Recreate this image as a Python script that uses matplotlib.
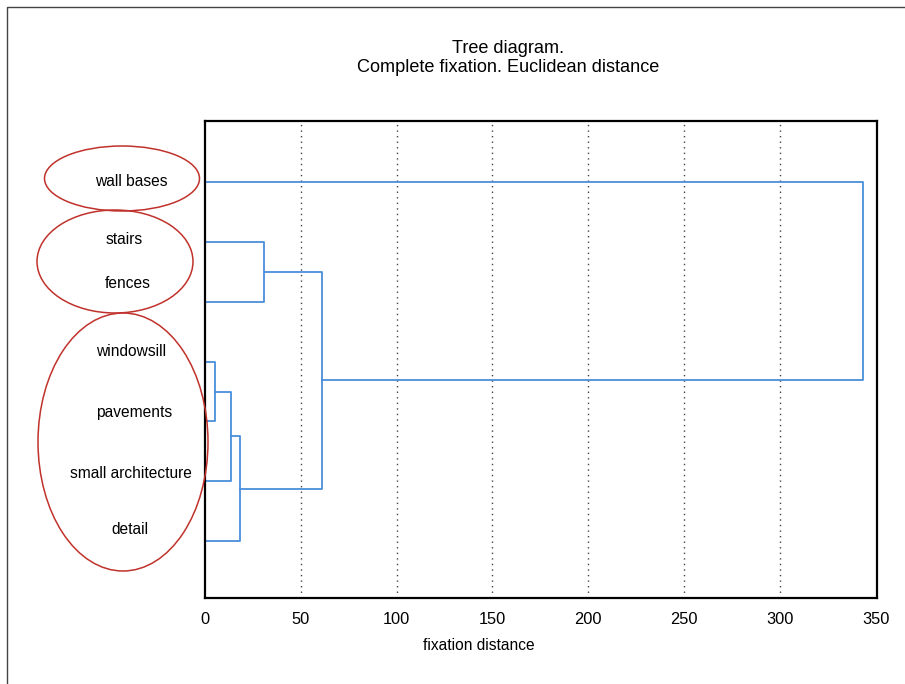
import matplotlib.pyplot as plt
from matplotlib.patches import Ellipse
from matplotlib.lines import Line2D

plt.rcParams['font.family'] = ['Liberation Sans', 'DejaVu Sans']

# leaves from top to bottom
leaves = ["wall bases", "stairs", "fences", "windowsill", "pavements",
          "small architecture", "detail"]
# merges: (child a, child b, distance); new cluster ids start at len(leaves)
merge_a = [3, 7, 8, 1, 10, 0]
merge_b = [4, 5, 6, 2, 9, 11]
merge_dist = [5.2, 13.6, 18.1, 30.7, 61.3, 343.3]

xticks = [0, 50, 100, 150, 200, 250, 300, 350]

# hand placed labels and circles (figure pixels, like in the original picture)
label_x = [131, 124, 128, 131, 134, 131, 130]
label_y = [181, 239, 283, 351, 412, 473, 528]
ell_cx = [122, 115, 123]
ell_cy = [178.5, 261.5, 442]
ell_w = [155, 156, 170]
ell_h = [65, 103, 258]

W, H = 905, 684
fig = plt.figure(figsize=(W / 100, H / 100), dpi=100)
ax = fig.add_axes([205 / W, 1 - 598 / H, 672 / W, 477 / H])

line_color = '#4a8fdb'
pos = {i: (0.0, i + 1.0) for i in range(len(leaves))}
for k, (a, b, d) in enumerate(zip(merge_a, merge_b, merge_dist)):
    ha, ya = pos[a]
    hb, yb = pos[b]
    ax.plot([ha, d, d, hb], [ya, ya, yb, yb], color=line_color, lw=1.3)
    pos[len(leaves) + k] = (d, (ya + yb) / 2)

ax.set_xlim(0, 350.7)
ax.set_ylim(7.95, -0.02)
ax.set_xticks(xticks)
ax.set_yticks([])
ax.tick_params(axis='x', length=0, pad=10, labelsize=11.8)
for x in xticks[1:-1]:
    ax.axvline(x, color='#444444', lw=1, ls=(0, (1, 3)), zorder=0)
for s in ax.spines.values():
    s.set_linewidth(1.6)
    s.set_color('black')

fig.text(508 / W, 1 - 58 / H, "Tree diagram.\nComplete fixation. Euclidean distance",
         ha='center', va='center', fontsize=13.1, linespacing=1.2)
fig.text(479 / W, 1 - 646 / H, "fixation distance", ha='center', va='center', fontsize=11.2)

# overlay in pixel coordinates for the labels and red circles
over = fig.add_axes([0, 0, 1, 1], facecolor='none')
over.set_xlim(0, W)
over.set_ylim(H, 0)
over.axis('off')
for name, x, y in zip(leaves, label_x, label_y):
    over.text(x, y + 1, name, ha='center', va='center', fontsize=11.2)
for cx, cy, w, h in zip(ell_cx, ell_cy, ell_w, ell_h):
    over.add_patch(Ellipse((cx, cy), w, h, fill=False, edgecolor='#c0322b', lw=1.1))

# frame of the picture (left and top edges)
over.add_line(Line2D([7, 7, W + 5], [H + 5, 7, 7], color='#444444', lw=1))

fig.savefig('out.png', dpi=100)
